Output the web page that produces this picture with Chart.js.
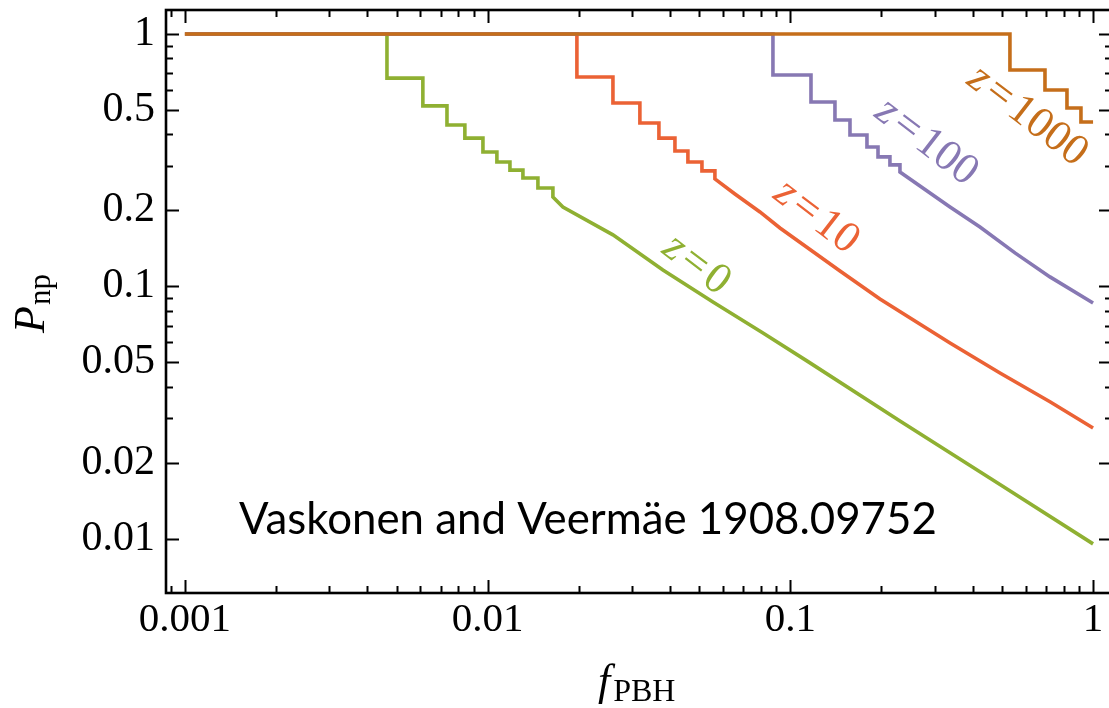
<!DOCTYPE html>
<html>
<head>
<meta charset="utf-8">
<title>P_np vs f_PBH</title>
<script src="https://cdn.jsdelivr.net/npm/chart.js@4.4.1/dist/chart.umd.min.js"></script>
<style>
  html, body { margin: 0; padding: 0; background: #fff; overflow: hidden; }
  #wrap { width: 1109px; height: 708px; overflow: hidden; }
  #pnpChart { display: block; }
</style>
</head>
<body>
<div id="wrap"><canvas id="pnpChart" width="1116" height="708"></canvas></div>
<script>
// P_np(f_PBH): discrete drops first (f where P falls, new P), then the smooth tail
const fStart = 0.001;

const z0StepF = [0.00465, 0.00611, 0.00734, 0.00841, 0.00965, 0.01073, 0.01185, 0.01308, 0.01466, 0.01643];
const z0StepP = [0.669, 0.519, 0.436, 0.387, 0.341, 0.311, 0.289, 0.269, 0.2455, 0.226];
const z0TailF = [0.01773, 0.02594, 0.03794, 0.05551, 0.08121, 0.1134, 0.2302, 0.4926, 1];
const z0TailP = [0.2064, 0.160, 0.1162, 0.0868, 0.0654, 0.0507, 0.0293, 0.0164, 0.00955];

const z10StepF = [0.01972, 0.02594, 0.03184, 0.03680, 0.04157, 0.04588, 0.05105, 0.05634];
const z10StepP = [0.676, 0.533, 0.444, 0.387, 0.344, 0.311, 0.287, 0.2665];
const z10TailF = [0.06561, 0.07937, 0.09241, 0.1459, 0.1977, 0.3369, 0.4926, 0.7205, 1];
const z10TailP = [0.2324, 0.1973, 0.1704, 0.1151, 0.0892, 0.0597, 0.0454, 0.0349, 0.0275];

const z100StepF = [0.0876, 0.1170, 0.1404, 0.1574, 0.1791, 0.1948, 0.2133, 0.2302];
const z100StepP = [0.688, 0.538, 0.4565, 0.398, 0.357, 0.326, 0.303, 0.284];
const z100TailF = [0.3369, 0.4231, 0.5521, 0.7205, 1];
const z100TailP = [0.2064, 0.172, 0.1358, 0.1091, 0.086];

const z1000StepF = [0.5314, 0.6937, 0.820, 0.912];
const z1000StepP = [0.720, 0.600, 0.509, 0.448];
const z1000TailF = [1];
const z1000TailP = [0.448];

// axis ticks
const xMajor = [0.001, 0.01, 0.1, 1];
const xLabels = ['0.001', '0.01', '0.1', '1'];
const xMinor = [0.0009, 0.002, 0.003, 0.004, 0.005, 0.006, 0.007, 0.008, 0.009,
                0.02, 0.03, 0.04, 0.05, 0.06, 0.07, 0.08, 0.09,
                0.2, 0.3, 0.4, 0.5, 0.6, 0.7, 0.8, 0.9];
const yMajor = [0.01, 0.02, 0.05, 0.1, 0.2, 0.5, 1];
const yLabels = ['0.01', '0.02', '0.05', '0.1', '0.2', '0.5', '1'];
const yMinor = [0.03, 0.04, 0.06, 0.07, 0.08, 0.09, 0.3, 0.4, 0.6, 0.7, 0.8, 0.9];

const COLORS = { z0: '#8fb032', z10: '#eb6235', z100: '#8778b3', z1000: '#c56e1a' };
const SERIF = '"Liberation Serif", "Times New Roman", serif';

// turn the drop list + tail into plain line points (two corners per drop)
function buildCurve(stepF, stepP, tailF, tailP) {
    const pts = [{ x: fStart, y: 1 }];
    let prev = 1;
    stepF.forEach((f, i) => {
        pts.push({ x: f, y: prev });
        pts.push({ x: f, y: stepP[i] });
        prev = stepP[i];
    });
    tailF.forEach((f, i) => pts.push({ x: f, y: tailP[i] }));
    return pts;
}

function curveDataset(label, pts, color, order) {
    return {
        label: label,
        data: pts,
        borderColor: color,
        borderWidth: 3.6,
        pointRadius: 0,
        tension: 0,
        fill: false,
        order: order,
        borderJoinStyle: 'miter',
        borderCapStyle: 'butt'
    };
}

// rotated "z = N" tags next to each curve (anchor in data units)
const curveTags = [
    { text: '0',    f: 0.0495, p: 0.1239, color: COLORS.z0 },
    { text: '10',   f: 0.1234, p: 0.1919, color: COLORS.z10 },
    { text: '100',  f: 0.2848, p: 0.3803, color: COLORS.z100 },
    { text: '1000', f: 0.6141, p: 0.4823, color: COLORS.z1000 }
];

function drawTag(ctx, cx, cy, value, color) {
    const size = 44;
    ctx.save();
    ctx.translate(cx, cy);
    ctx.rotate(37.5 * Math.PI / 180);
    ctx.fillStyle = color;
    ctx.textBaseline = 'alphabetic';
    ctx.textAlign = 'left';
    const gap = size * 0.1;
    ctx.font = `italic ${size}px ${SERIF}`;
    const wz = ctx.measureText('z').width;
    ctx.font = `${size}px ${SERIF}`;
    const we = ctx.measureText('=').width;
    const wv = ctx.measureText(value).width;
    const total = wz + gap + we + gap + wv;
    let x = -total / 2;
    const base = size * 0.32;
    ctx.font = `italic ${size}px ${SERIF}`;
    ctx.fillText('z', x, base);
    x += wz + gap;
    ctx.font = `${size}px ${SERIF}`;
    ctx.fillText('=', x, base);
    x += we + gap;
    ctx.fillText(value, x, base);
    ctx.restore();
}

const framePlugin = {
    id: 'frameAndText',
    afterDatasetsDraw(chart) {
        const { ctx, scales: { x, y } } = chart;

        curveTags.forEach(t => {
            drawTag(ctx, x.getPixelForValue(t.f), y.getPixelForValue(t.p), t.text, t.color);
        });

        // credit line, Lato stands in for Calibri
        ctx.save();
        const credit = 'Vaskonen and Veermäe 1908.09752';
        ctx.font = '40px Lato, "Open Sans", sans-serif';
        const scale = 698 / ctx.measureText(credit).width;
        ctx.font = `${(40 * scale).toFixed(1)}px Lato, "Open Sans", sans-serif`;
        ctx.fillStyle = '#000';
        ctx.textBaseline = 'alphabetic';
        ctx.fillText(credit, 239, 534);
        ctx.restore();
    },
    afterDraw(chart) {
        const { ctx, chartArea: a, scales: { x, y } } = chart;
        ctx.save();
        ctx.strokeStyle = '#000';
        ctx.lineWidth = 2;
        ctx.beginPath();
        const xTick = (v, len) => {
            const px = Math.round(x.getPixelForValue(v)) + 0.5;
            ctx.moveTo(px, a.bottom); ctx.lineTo(px, a.bottom - len);
            ctx.moveTo(px, a.top); ctx.lineTo(px, a.top + len);
        };
        const yTick = (v, len) => {
            const py = Math.round(y.getPixelForValue(v)) + 0.5;
            ctx.moveTo(a.left, py); ctx.lineTo(a.left + len, py);
            ctx.moveTo(a.right, py); ctx.lineTo(a.right - len, py);
        };
        xMajor.forEach(v => xTick(v, 13));
        xMinor.forEach(v => xTick(v, 7));
        yMajor.forEach(v => yTick(v, 13));
        yMinor.forEach(v => yTick(v, 7));
        ctx.stroke();

        ctx.lineWidth = 2.6;
        ctx.strokeRect(a.left, a.top, a.right - a.left, a.bottom - a.top);

        // axis titles with subscripts
        ctx.fillStyle = '#000';
        ctx.textBaseline = 'alphabetic';
        ctx.textAlign = 'left';

        ctx.save();
        ctx.translate(44, 333);
        ctx.rotate(-Math.PI / 2);
        ctx.font = `italic 44px ${SERIF}`;
        const wP = ctx.measureText('P').width;
        ctx.fillText('P', 0, 0);
        ctx.font = `31px ${SERIF}`;
        ctx.fillText('np', wP + 1, 6);
        ctx.restore();

        ctx.font = `italic 44px ${SERIF}`;
        const wf = ctx.measureText('f').width;
        ctx.fillText('f', 598, 695);
        ctx.font = `32px ${SERIF}`;
        ctx.fillText('PBH', 598 + wf + 3, 701);
        ctx.restore();
    }
};

const canvas = document.getElementById('pnpChart');

new Chart(canvas, {
    type: 'line',
    data: {
        datasets: [
            curveDataset('z=0', buildCurve(z0StepF, z0StepP, z0TailF, z0TailP), COLORS.z0, 3),
            curveDataset('z=10', buildCurve(z10StepF, z10StepP, z10TailF, z10TailP), COLORS.z10, 2),
            curveDataset('z=100', buildCurve(z100StepF, z100StepP, z100TailF, z100TailP), COLORS.z100, 1),
            curveDataset('z=1000', buildCurve(z1000StepF, z1000StepP, z1000TailF, z1000TailP), COLORS.z1000, 0)
        ]
    },
    options: {
        responsive: false,
        animation: false,
        events: [],
        layout: { padding: { top: 10, right: 4, left: 0, bottom: 0 } },
        plugins: {
            legend: { display: false },
            tooltip: { enabled: false }
        },
        scales: {
            x: {
                type: 'logarithmic',
                min: 0.000866,
                max: 1.155,
                grid: { display: false, drawTicks: false },
                border: { display: false },
                afterBuildTicks: s => { s.ticks = xMajor.map(v => ({ value: v })); },
                afterFit: s => { s.height = 115; s.paddingLeft = 0; s.paddingRight = 0; },
                ticks: {
                    autoSkip: false,
                    maxRotation: 0,
                    padding: 3,
                    color: '#000',
                    font: { family: SERIF, size: 41 },
                    callback: (v, i) => xLabels[i]
                }
            },
            y: {
                type: 'logarithmic',
                min: 0.0061,
                max: 1.245,
                grid: { display: false, drawTicks: false },
                border: { display: false },
                afterBuildTicks: s => { s.ticks = yMajor.map(v => ({ value: v })); },
                afterFit: s => { s.width = 166; s.paddingTop = 0; s.paddingBottom = 0; },
                ticks: {
                    autoSkip: false,
                    padding: 11,
                    color: '#000',
                    font: { family: SERIF, size: 42 },
                    callback: (v, i) => yLabels[i]
                }
            }
        }
    },
    plugins: [framePlugin]
});
</script>
</body>
</html>
